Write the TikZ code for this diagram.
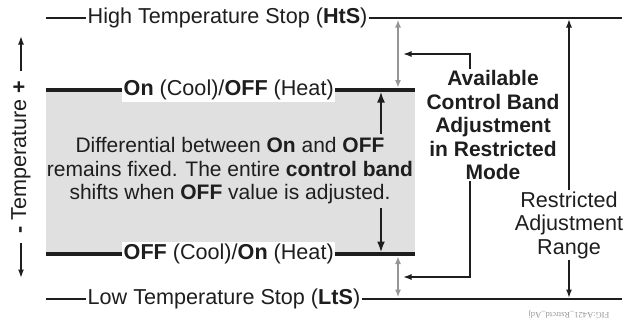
\documentclass[tikz,border=0pt]{standalone}
\usepackage{fontspec}
\setmainfont{Liberation Sans}
\newfontfamily\figidfont{Liberation Serif}
\usetikzlibrary{arrows.meta, positioning, calc}
\definecolor{ink}{RGB}{30,30,30}
\definecolor{bandgray}{RGB}{224,224,224}
\definecolor{guidegray}{RGB}{150,150,150}

\tikzset{
  lbl/.style={fill=white, inner sep=1.5pt, text=ink,
              font=\fontsize{21.6}{23.5}\selectfont},
  stopline/.style={draw=ink, line width=1.8pt},
  bandline/.style={draw=ink, line width=3.4pt},
  pointer/.style={draw=ink, line width=1.6pt, -{Latex[length=8.5pt, width=6pt]}},
  bigpointer/.style={draw=ink, line width=2.2pt, -{Latex[length=11pt, width=8pt]}},
  gapguide/.style={draw=guidegray, line width=2pt,
                   {Latex[length=8pt, width=6pt]}-{Latex[length=8pt, width=6pt]}}
}

\begin{document}
\begin{tikzpicture}[x=1pt, y=-1pt]
  \useasboundingbox (0,0) rectangle (626,324);

  % control band
  \fill[bandgray] (46,90) rectangle (415,254);

  % end points of the levels
  \coordinate (htsL) at (46,18);   \coordinate (htsR) at (622,18);
  \coordinate (onL) at (46,90);    \coordinate (onR) at (415,90);
  \coordinate (offL) at (46,254);  \coordinate (offR) at (415,254);
  \coordinate (ltsL) at (46,299);  \coordinate (ltsR) at (622,299);

  % level labels
  \node[lbl, anchor=west] (hts) at (86,18) {High Temperature Stop (\textbf{HtS})};
  \node[lbl, anchor=west] (onlbl) at (122,90) {\textbf{On} (Cool)/\textbf{OFF} (Heat)};
  \node[lbl, anchor=west] (offlbl) at (122,254) {\textbf{OFF} (Cool)/\textbf{On} (Heat)};
  \node[lbl, anchor=west] (lts) at (86,299) {Low Temperature Stop (\textbf{LtS})};

  \draw[stopline] (htsL) -- (hts);   \draw[stopline] (hts) -- (htsR);
  \draw[bandline] (onL) -- (onlbl);  \draw[bandline] (onlbl) -- (onR);
  \draw[bandline] (offL) -- (offlbl); \draw[bandline] (offlbl) -- (offR);
  \draw[stopline] (ltsL) -- (lts);   \draw[stopline] (lts) -- (ltsR);

  % band text and fixed differential
  \node[lbl, fill=none, align=center, font=\fontsize{21}{23.5}\selectfont] (diff) at (230,171)
    {Differential between \textbf{On} and \textbf{OFF}\\
     remains fixed. The entire \textbf{control band}\\
     shifts when \textbf{OFF} value is adjusted.};
  \coordinate (upfoot) at (381,134);
  \coordinate (downfoot) at (381,208);
  \draw[bigpointer, shorten >=1.5pt] (upfoot) -- (upfoot |- onR);
  \draw[bigpointer, shorten >=1.5pt] (downfoot) -- (downfoot |- offR);

  % free room above and below the band
  \coordinate (gap) at (398,0);
  \draw[gapguide, shorten <=1.5pt, shorten >=2pt] (gap |- hts) -- (gap |- onR);
  \draw[gapguide, shorten <=2pt, shorten >=1.5pt] (gap |- offR) -- (gap |- lts);

  % available adjustment
  \node[lbl, align=center, font=\bfseries\fontsize{21}{23.5}\selectfont] (avail) at (493,125)
    {Available\\Control Band\\Adjustment\\in Restricted\\Mode};
  \coordinate (brk) at (470,0);
  \coordinate (tipHi) at (403,54);
  \coordinate (tipLo) at (403,277);
  \draw[pointer] (avail.north -| brk) |- (tipHi);
  \draw[pointer] (avail.south -| brk) |- (tipLo);

  % restricted range
  \node[lbl, align=center] (rng) at (569,225) {Restricted\\Adjustment\\Range};
  \draw[pointer, shorten >=1pt] (rng.north) -- (rng.north |- hts);
  \draw[pointer, shorten >=1pt] (rng.south) -- (rng.south |- lts);

  % temperature axis
  \node[lbl, rotate=90] (tempaxis) at (21,157) {\textbf{-} Temperature \textbf{+}};
  \coordinate (axTop) at (21,36);
  \coordinate (axBot) at (21,278);
  \draw[pointer, shorten <=8pt] (tempaxis.east) -- (axTop);
  \draw[pointer, shorten <=8pt] (tempaxis.west) -- (axBot);

  % figure id
  \node[rotate=180, inner sep=0pt, text=guidegray,
        font=\figidfont\fontsize{8.5}{10}\selectfont] (figid) at (569,315)
    {FIG:A421\_Rstrctd\_Adj};
\end{tikzpicture}
\end{document}
